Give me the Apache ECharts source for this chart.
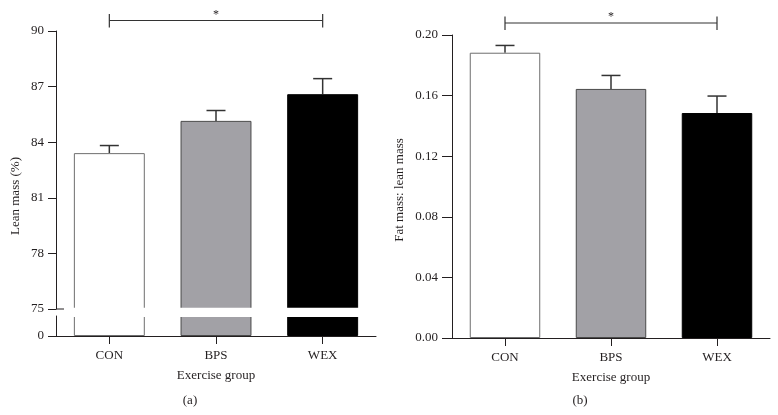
<!DOCTYPE html>
<html>
<head>
<meta charset="utf-8">
<script src="https://cdn.jsdelivr.net/npm/echarts@6/dist/echarts.min.js"></script>
<style>
html,body{margin:0;padding:0;background:#fff;}
#c{width:778px;height:415px;}
</style>
</head>
<body>
<div id="c"></div>
<script>
// ---- data ----
const categories = ['CON', 'BPS', 'WEX'];
const leanMass = [83.41, 85.15, 86.59];
const leanMassErr = [0.41, 0.56, 0.84];
const fatLean = [0.1883, 0.1644, 0.1485];
const fatLeanErr = [0.0048, 0.0089, 0.0112];
const leanTickMin = 75, leanTickMax = 90, leanTickStep = 3;
const fatTickMin = 0, fatTickMax = 0.2, fatTickStep = 0.04;
const sigPairA = ['CON', 'WEX'];
const sigPairB = ['CON', 'WEX'];

// ---- styles ----
const FONT = 'Liberation Serif';
const TXT = '#231f20';
const barFill = ['#ffffff', '#a2a1a6', '#000000'];
const barBorder = ['#6e6e6e', '#4a4a4a', '#000000'];

const gA = {left: 56, top: 31, width: 320, height: 278};
const gA0 = {left: 56, top: 316, width: 320, height: 20};
const gB = {left: 452, top: 35, width: 318, height: 303};

function barData(vals) {
  return vals.map((v, i) => ({
    value: v,
    itemStyle: {color: barFill[i], borderColor: barBorder[i], borderWidth: 1}
  }));
}
function errData(vals, errs) {
  return vals.map((v, i) => [i, v, errs[i]]);
}
function errRender(params, api) {
  const x = api.value(0), m = api.value(1), e = api.value(2);
  const p0 = api.coord([x, m]);
  const p1 = api.coord([x, m + e]);
  const hw = 9.5;
  return {
    type: 'group',
    children: [
      {type: 'line', shape: {x1: p0[0], y1: p0[1], x2: p1[0], y2: p1[1]}, style: {stroke: '#333', lineWidth: 1.5}},
      {type: 'line', shape: {x1: p1[0] - hw, y1: p1[1], x2: p1[0] + hw, y2: p1[1]}, style: {stroke: '#333', lineWidth: 1.5}}
    ]
  };
}

const labelStyle = {fontFamily: FONT, fontSize: 13, color: TXT};
const lineStyle = {color: TXT, width: 1};

function catAxis(gi, show) {
  return {
    type: 'category', gridIndex: gi, data: categories, show: show,
    axisLine: {show: true, lineStyle: lineStyle},
    axisTick: {show: true, length: 8, alignWithLabel: true, lineStyle: lineStyle},
    axisLabel: Object.assign({margin: 13}, labelStyle),
    name: 'Exercise group', nameLocation: 'middle', nameGap: 33,
    nameTextStyle: labelStyle
  };
}

const chart = echarts.init(document.getElementById('c'));
chart.setOption({
  animation: false,
  backgroundColor: '#fff',
  grid: [gA, gA0, gB],
  xAxis: [catAxis(0, false), catAxis(1, true), catAxis(2, true)],
  yAxis: [
    {
      type: 'value', gridIndex: 0, min: leanTickMin, max: leanTickMax, interval: leanTickStep,
      splitLine: {show: false},
      axisLine: {show: true, lineStyle: lineStyle},
      axisTick: {show: true, length: 8, lineStyle: lineStyle},
      axisLabel: Object.assign({margin: 12}, labelStyle)
    },
    {
      type: 'value', gridIndex: 1, min: 0, max: 1,
      splitLine: {show: false},
      axisLine: {show: true, lineStyle: lineStyle},
      axisTick: {show: true, length: 8, lineStyle: lineStyle, customValues: [0]},
      axisLabel: Object.assign({margin: 12, customValues: [0]}, labelStyle)
    },
    {
      type: 'value', gridIndex: 2, min: fatTickMin, max: fatTickMax, interval: fatTickStep,
      splitLine: {show: false},
      axisLine: {show: true, lineStyle: lineStyle},
      axisTick: {show: true, length: 10, lineStyle: lineStyle},
      axisLabel: Object.assign({margin: 14, formatter: v => v.toFixed(2)}, labelStyle)
    }
  ],
  series: [
    {type: 'bar', xAxisIndex: 0, yAxisIndex: 0, data: barData(leanMass), barWidth: '66.5%', clip: true},
    {type: 'bar', xAxisIndex: 1, yAxisIndex: 1, data: barData(leanMass), barWidth: '66.5%', clip: true},
    {type: 'bar', xAxisIndex: 2, yAxisIndex: 2, data: barData(fatLean), barWidth: '66.5%', clip: true},
    {type: 'custom', xAxisIndex: 0, yAxisIndex: 0, data: errData(leanMass, leanMassErr), renderItem: errRender, encode: {x: 0, y: 1}, z: 1, clip: false},
    {type: 'custom', xAxisIndex: 2, yAxisIndex: 2, data: errData(fatLean, fatLeanErr), renderItem: errRender, encode: {x: 0, y: 1}, z: 1, clip: false}
  ]
});

// annotations positioned through the axes
function px(xi, cat) { return chart.convertToPixel({xAxisIndex: xi}, cat); }
const graphics = [];
function bracket(xi, pair, y) {
  const x1 = px(xi, pair[0]), x2 = px(xi, pair[1]);
  const ls = {stroke: '#333', lineWidth: 1.2};
  graphics.push({type: 'line', z: 100, shape: {x1: x1, y1: y, x2: x2, y2: y}, style: ls});
  graphics.push({type: 'line', z: 100, shape: {x1: x1, y1: y - 6.5, x2: x1, y2: y + 7}, style: ls});
  graphics.push({type: 'line', z: 100, shape: {x1: x2, y1: y - 6.5, x2: x2, y2: y + 7}, style: ls});
  graphics.push({type: 'text', z: 100, x: (x1 + x2) / 2, y: y - 6, style: {text: '*', textAlign: 'center', textVerticalAlign: 'middle', fontFamily: FONT, fontSize: 12, fill: TXT}});
}
bracket(1, sigPairA, gA.top - 10.5);
bracket(2, sigPairB, gB.top - 12);

// axis break: cover gap between the two left grids
const yBreak = chart.convertToPixel({yAxisIndex: 0}, leanTickMin);
graphics.push({type: 'rect', z: 90, shape: {x: gA.left + 1, y: yBreak - 1.3, width: gA.width + 2, height: gA0.top - yBreak + 2.3}, style: {fill: '#fff'}});
graphics.push({type: 'line', z: 100, shape: {x1: gA.left, y1: yBreak, x2: gA.left + 8, y2: yBreak}, style: {stroke: TXT, lineWidth: 1}});

// rotated axis titles and panel labels
graphics.push({type: 'text', z: 100, x: 16, y: 196, rotation: Math.PI / 2, style: {text: 'Lean mass (%)', textAlign: 'center', textVerticalAlign: 'middle', fontFamily: FONT, fontSize: 13, fill: TXT}});
graphics.push({type: 'text', z: 100, x: 400, y: 190, rotation: Math.PI / 2, style: {text: 'Fat mass: lean mass', textAlign: 'center', textVerticalAlign: 'middle', fontFamily: FONT, fontSize: 13, fill: TXT}});
graphics.push({type: 'text', z: 100, x: 190, y: 401, style: {text: '(a)', textAlign: 'center', textVerticalAlign: 'middle', fontFamily: FONT, fontSize: 13, fill: TXT}});
graphics.push({type: 'text', z: 100, x: 580, y: 401, style: {text: '(b)', textAlign: 'center', textVerticalAlign: 'middle', fontFamily: FONT, fontSize: 13, fill: TXT}});

chart.setOption({graphic: graphics});
</script>
</body>
</html>
